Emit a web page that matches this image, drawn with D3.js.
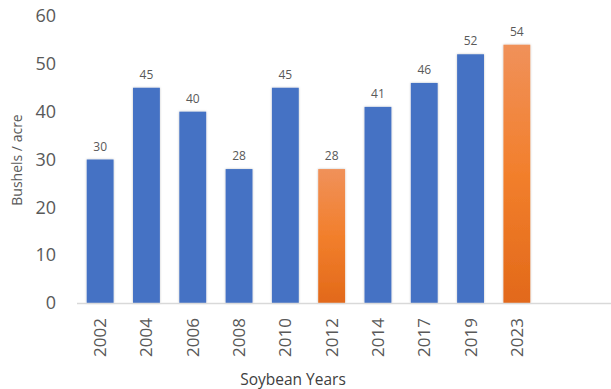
<!DOCTYPE html>
<html>
<head>
<meta charset="utf-8">
<script src="https://cdn.jsdelivr.net/npm/d3@7"></script>
<style>
    body { margin: 0; background: #fff; }
    svg { display: block; font-family: 'Open Sans', sans-serif; }
</style>
</head>
<body>
<div id="chart"></div>
<script>
var years = ['2002', '2004', '2006', '2008', '2010', '2012', '2014', '2017', '2019', '2023'];
var yields = [30, 45, 40, 28, 45, 28, 41, 46, 52, 54];
var highlighted = ['2012', '2023'];
var yTicks = [0, 10, 20, 30, 40, 50, 60];

var width = 611;
var height = 389;

var svg = d3.select('#chart').append('svg')
    .attr('width', width)
    .attr('height', height);

var defs = svg.append('defs');
var grad = defs.append('linearGradient')
    .attr('id', 'orangeGrad')
    .attr('x1', 0).attr('y1', 0).attr('x2', 0).attr('y2', 1);
grad.append('stop').attr('offset', '0%').attr('stop-color', '#f0915a');
grad.append('stop').attr('offset', '50%').attr('stop-color', '#f27f2c');
grad.append('stop').attr('offset', '100%').attr('stop-color', '#e2691a');

var shadow = defs.append('filter').attr('id', 'glow')
    .attr('x', '-30%').attr('y', '-10%').attr('width', '160%').attr('height', '120%');
shadow.append('feDropShadow')
    .attr('dx', 0).attr('dy', 0).attr('stdDeviation', 1.2)
    .attr('flood-color', '#000').attr('flood-opacity', 0.25);

var x = d3.scaleBand()
    .domain(years)
    .range([77, 540])
    .paddingInner(0.42)
    .paddingOuter(0.21);

var y = d3.scaleLinear()
    .domain([0, 60])
    .range([303, 16]);

// y tick labels, no axis line
var yAxis = svg.append('g')
    .attr('transform', 'translate(56,0)')
    .call(d3.axisLeft(y).tickValues(yTicks).tickSize(0).tickPadding(0));
yAxis.select('.domain').remove();
yAxis.selectAll('text')
    .attr('font-family', "'Open Sans', sans-serif")
    .attr('font-size', 18)
    .attr('fill', '#595959');

var data = years.map(function(yr, i) {
    return { year: yr, value: yields[i] };
});

svg.append('g')
    .selectAll('rect')
    .data(data)
    .enter().append('rect')
    .attr('x', function(d) { return x(d.year); })
    .attr('y', function(d) { return y(d.value); })
    .attr('width', x.bandwidth())
    .attr('height', function(d) { return y(0) - y(d.value); })
    .attr('fill', function(d) {
        return highlighted.indexOf(d.year) >= 0 ? 'url(#orangeGrad)' : '#4472c4';
    })
    .attr('filter', 'url(#glow)');

// baseline
svg.append('line')
    .attr('x1', 77).attr('x2', width)
    .attr('y1', y(0) + 0.5).attr('y2', y(0) + 0.5)
    .attr('stroke', '#d9d9d9')
    .attr('stroke-width', 1.5);

svg.append('g')
    .selectAll('text')
    .data(data)
    .enter().append('text')
    .attr('x', function(d) { return x(d.year) + x.bandwidth() / 2; })
    .attr('y', function(d) { return y(d.value) - 9; })
    .attr('text-anchor', 'middle')
    .attr('font-size', 12)
    .attr('fill', '#595959')
    .text(function(d) { return d.value; });

var xAxis = svg.append('g')
    .attr('transform', 'translate(0,' + y(0) + ')')
    .call(d3.axisBottom(x).tickSize(0).tickPadding(0));
xAxis.select('.domain').remove();
xAxis.selectAll('text')
    .attr('font-family', "'Open Sans', sans-serif")
    .attr('font-size', 17)
    .attr('fill', '#595959')
    .attr('text-anchor', 'end')
    .attr('dy', '0.35em')
    .attr('transform', 'translate(0,15) rotate(-90)');

svg.append('text')
    .attr('x', 293)
    .attr('y', 385)
    .attr('text-anchor', 'middle')
    .attr('font-size', 15.5)
    .attr('fill', '#404040')
    .text('Soybean Years');

svg.append('text')
    .attr('transform', 'translate(22,160) rotate(-90)')
    .attr('text-anchor', 'middle')
    .attr('font-size', 14)
    .attr('fill', '#595959')
    .text('Bushels / acre');
</script>
</body>
</html>
